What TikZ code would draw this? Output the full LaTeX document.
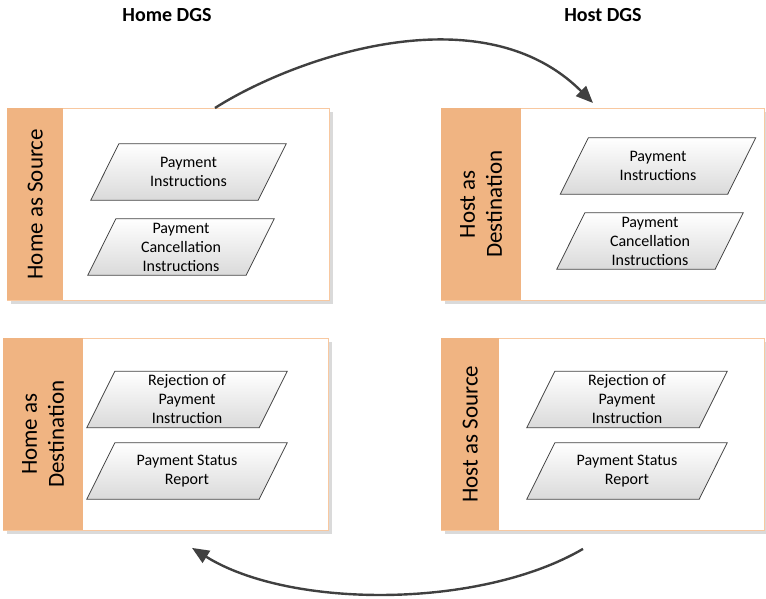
\documentclass[tikz,border=0pt]{standalone}
\usepackage{fontspec}
\setmainfont{Carlito}
\usetikzlibrary{arrows.meta,shadows}

\definecolor{stripfill}{RGB}{240,180,130}
\definecolor{boxline}{RGB}{248,200,160}
\definecolor{flowline}{RGB}{64,64,64}
\definecolor{shadegray}{RGB}{218,218,218}
\definecolor{slabedge}{RGB}{70,70,70}
\definecolor{slabbottom}{RGB}{218,218,218}

% parallelogram "data" slab: name, centre, edge length, text
\newcommand\dataslab[4]{%
  \node[slabframe, minimum width=#3pt] (#1) at (#2) {};
  \fill[shadegray, shift={(4,4)}]
    ([xshift=14pt]#1.north west) -- ([xshift=14pt]#1.north east)
    -- ([xshift=-14pt]#1.south east) -- ([xshift=-14pt]#1.south west) -- cycle;
  \draw[slabedge, line width=0.8pt, top color=white, bottom color=slabbottom]
    ([xshift=14pt]#1.north west) -- ([xshift=14pt]#1.north east)
    -- ([xshift=-14pt]#1.south east) -- ([xshift=-14pt]#1.south west) -- cycle;
  \node[slabtext] (#1t) at (#1.center) {#4};
}

\begin{document}
\begin{tikzpicture}[x=1pt, y=-1pt,
  title/.style={font=\fontsize{20}{24}\selectfont\bfseries, inner sep=0pt},
  lanebox/.style={draw=boxline, line width=0.9pt, fill=white, rectangle,
    inner sep=0pt, minimum height=192pt, anchor=north west,
    drop shadow={shadow xshift=4pt, shadow yshift=-4pt, fill=shadegray, opacity=1}},
  lanestrip/.style={fill=stripfill, rectangle, inner sep=0pt,
    minimum height=192pt, anchor=north west},
  lanelabel/.style={rotate=90, align=center, inner sep=0pt,
    font=\fontsize{23}{27}\selectfont},
  slabframe/.style={rectangle, inner sep=0pt, minimum height=56pt},
  slabtext/.style={align=center, inner sep=0pt,
    font=\fontsize{16}{19}\selectfont},
  flow/.style={draw=flowline, line width=2.4pt,
    -{Triangle[length=17pt, width=14pt]}}]

\useasboundingbox (0,0) rectangle (766,599);

% column headings
\node[title] (home) at (167,15) {Home DGS};
\node[title] (host) at (603,15) {Host DGS};

% swim-lane boxes
\node[lanebox, minimum width=322pt] (b1) at (7,108) {};
\node[lanestrip, minimum width=56pt] (s1) at (b1.north west) {};
\node[lanelabel] (l1) at (s1.center) {Home as Source};

\node[lanebox, minimum width=323pt] (b2) at (441,108) {};
\node[lanestrip, minimum width=80pt] (s2) at (b2.north west) {};
\node[lanelabel] (l2) at (s2.center) {Host as\\Destination};

\node[lanebox, minimum width=325pt] (b3) at (3,338) {};
\node[lanestrip, minimum width=80pt] (s3) at (b3.north west) {};
\node[lanelabel] (l3) at (s3.center) {Home as\\Destination};

\node[lanebox, minimum width=323pt] (b4) at (441,338) {};
\node[lanestrip, minimum width=58pt] (s4) at (b4.north west) {};
\node[lanelabel] (l4) at (s4.center) {Host as Source};

% message slabs
\dataslab{m1}{188.5,172}{167}{Payment\\Instructions}
\dataslab{m2}{181,247}{158}{Payment\\Cancellation\\Instructions}
\dataslab{m3}{658,166}{167}{Payment\\Instructions}
\dataslab{m4}{650,241}{158}{Payment\\Cancellation\\Instructions}
\dataslab{m5}{187,399.5}{172}{Rejection of\\Payment\\Instruction}
\dataslab{m6}{187,471}{172}{Payment Status\\Report}
\dataslab{m7}{627,399.5}{172}{Rejection of\\Payment\\Instruction}
\dataslab{m8}{627,471}{172}{Payment Status\\Report}

% flows between the two DGS
\coordinate (a1) at ([xshift=208pt]b1.north west);
\coordinate (a2) at ([xshift=152pt, yshift=5pt]b2.north west);
\coordinate (a3) at ([xshift=142pt, yshift=-18pt]b4.south west);
\coordinate (a4) at ([xshift=189pt, yshift=-17pt]b3.south west);

\draw[flow] (a1) .. controls (290,60) and (480,-10) .. (a2);
\draw[flow] (a3) .. controls (480,609) and (290,609) .. (a4);

\end{tikzpicture}
\end{document}
